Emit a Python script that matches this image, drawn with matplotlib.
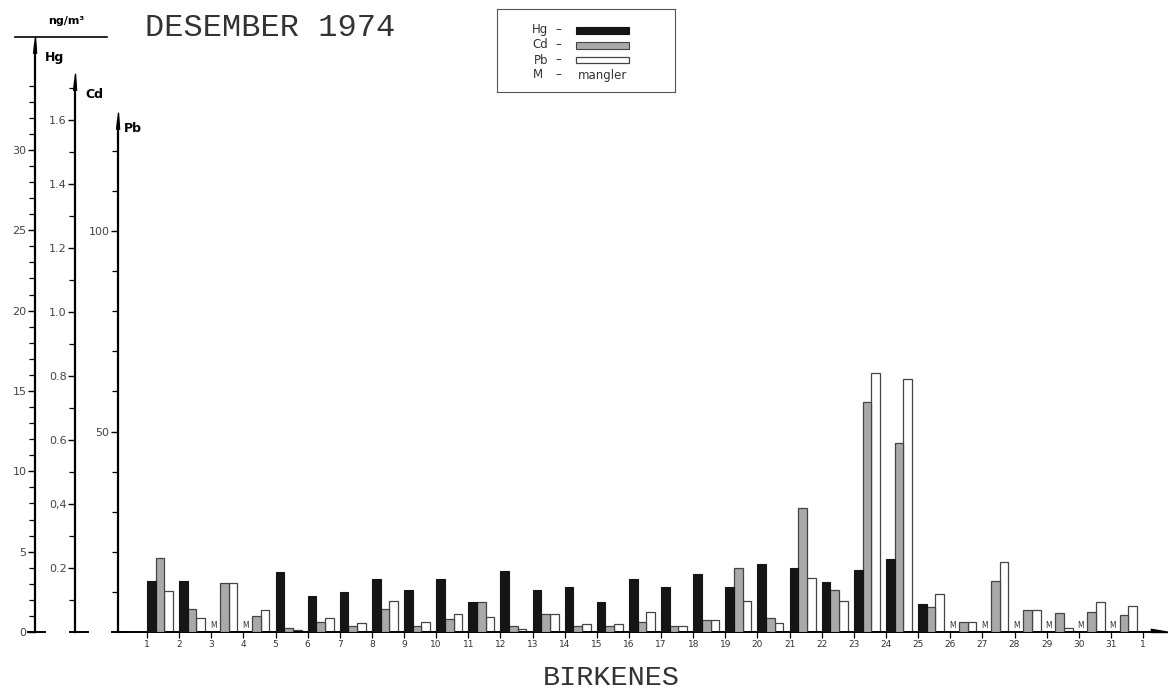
import numpy as np
import matplotlib.pyplot as plt
from matplotlib.patches import Rectangle
from matplotlib.lines import Line2D

# Birkenes, desember 1974 (ng/m3); nan = mangler
days = np.arange(1, 32)
tick_labels = [str(d) for d in days] + ['1']
hg = [3.19, 3.19, np.nan, np.nan, 3.75, 2.24, 2.51, 3.30, 2.61, 3.30, 1.89, 3.80, 2.61, 2.82, 1.89, 3.30,
      2.78, 3.59, 2.82, 4.23, 3.96, 3.13, 3.86, 4.54, 1.72, np.nan, np.nan, np.nan, np.nan, np.nan, np.nan]
cd = [0.23, 0.071, 0.152, 0.05, 0.012, 0.032, 0.019, 0.071, 0.02, 0.04, 0.095, 0.02, 0.056, 0.019, 0.019, 0.032,
      0.019, 0.0375, 0.199, 0.043, 0.387, 0.131, 0.72, 0.59, 0.077, 0.032, 0.16, 0.069, 0.06, 0.063, 0.053]
pb = [10.3, 3.6, 12.1, 5.5, 0.6, 3.4, 2.3, 7.7, 2.5, 4.4, 3.7, 0.7, 4.5, 2.0, 2.0, 4.9,
      1.5, 3.0, 7.7, 2.2, 13.5, 7.8, 64.7, 63.0, 9.6, 2.4, 17.5, 5.5, 0.9, 7.6, 6.5]

W, H = 1168, 695


def fx(px):
    return px / W


def fy(py):
    return 1 - py / H


fig = plt.figure(figsize=(W / 100, H / 100), dpi=100)
pos = [fx(118), fy(632), (1160 - 118) / W, (632 - 40) / H]

ax_pb = fig.add_axes(pos)
ax_cd = fig.add_axes(pos, sharex=ax_pb)
ax_hg = fig.add_axes(pos, sharex=ax_pb)

plot_h = 632 - 40
ax_hg.set_ylim(0, plot_h / 16.07)
ax_cd.set_ylim(0, plot_h / 320)
ax_pb.set_ylim(0, plot_h / 4.01)
ax_pb.set_xlim(1 - 29 / 32.13, 1 + (1160 - 147) / 32.13)

edge = '#444444'
w = 0.27
ax_hg.bar(days, np.nan_to_num(hg), w, align='edge', color='#151515', edgecolor='#151515', lw=0.8)
ax_cd.bar(days + w, cd, w, align='edge', color='#a9a9a9', edgecolor=edge, lw=0.9)
ax_pb.bar(days + 2 * w, pb, w, align='edge', color='white', edgecolor=edge, lw=0.9)

for d, v in zip(days, hg):
    if np.isnan(v):
        ax_hg.text(d + 0.06, 0.1, 'M', ha='center', va='bottom', fontsize=5.5, color='#333333')

axis_specs = [
    (ax_hg, (35 - 118) / 1042, 36.5, (28, 45), 'Hg', (45, 57)),
    (ax_cd, (75 - 118) / 1042, 1.72, (70, 88), 'Cd', (85, 95)),
    (ax_pb, 0.0, 127.5, (112, 128), 'Pb', (124, 128)),
]
for ax, frac, top, foot, name, lab in axis_specs:
    for s in ['top', 'right', 'bottom']:
        if not (ax is ax_pb and s == 'bottom'):
            ax.spines[s].set_visible(False)
    ax.spines['left'].set_position(('axes', frac))
    ax.spines['left'].set_bounds(0, top)
    ax.spines['left'].set_linewidth(1.6)
    ax.plot([frac], [top], marker=[(-0.35, -1.5), (0, 1.5), (0.2, -1.5)], ms=12, color='black',
            transform=ax.get_yaxis_transform(), clip_on=False)
    ax.plot([(foot[0] - 118) / 1042, (foot[1] - 118) / 1042], [0, 0], color='black', lw=1.4,
            transform=ax.get_yaxis_transform(), clip_on=False)
    ax.tick_params(axis='y', which='major', length=5, width=1, labelsize=8, labelcolor='#444444', pad=1)
    ax.tick_params(axis='y', which='minor', length=4, width=0.9)
    fig.text(fx(lab[0]), fy(lab[1]), name, fontsize=9, fontweight='bold', va='center', ha='left')
    if ax is not ax_pb:
        ax.patch.set_visible(False)
        ax.tick_params(axis='x', which='both', bottom=False, labelbottom=False)

ax_hg.set_yticks([0, 5, 10, 15, 20, 25, 30])
ax_hg.set_yticks(np.arange(1, 35), minor=True)
ax_cd.set_yticks([0.2, 0.4, 0.6, 0.8, 1.0, 1.2, 1.4, 1.6])
ax_cd.set_yticklabels(['0.2', '0,4', '0.6', '0.8', '1.0', '1.2', '1.4', '1.6'])
ax_cd.set_yticks(np.arange(0.1, 1.75, 0.1), minor=True)
ax_pb.set_yticks([50, 100])
ax_pb.set_yticks(np.arange(10, 125, 10), minor=True)

ax_pb.spines['bottom'].set_linewidth(1.4)
ax_pb.set_xticks(np.arange(1, 33))
ax_pb.set_xticklabels(tick_labels)
ax_pb.tick_params(axis='x', length=4, width=0.9, labelsize=6.5, pad=2, labelcolor='#333333')
ax_pb.plot([1.0], [0.0], marker=[(-1.5, 0.0), (1.5, 0.0), (-1.5, 0.5)], ms=14, color='black',
           transform=ax_pb.transAxes, clip_on=False)

# headings
fig.text(fx(66), fy(21), 'ng/m³', fontsize=8, fontweight='bold', ha='center', va='center')
fig.add_artist(Line2D([fx(15), fx(107)], [fy(37), fy(37)], color='black', lw=1.2))
fig.text(fx(145), fy(36), 'DESEMBER 1974', family='Liberation Mono', fontsize=23, color='#333333',
         ha='left', va='baseline')
fig.text(fx(611), fy(678), 'BIRKENES', family='Liberation Mono', fontsize=20.5, color='#333333',
         ha='center', va='center')

# legend box
lax = fig.add_axes([fx(497), fy(92), 178 / W, 83 / H])
lax.set_xlim(497, 675)
lax.set_ylim(92, 9)
lax.set_xticks([])
lax.set_yticks([])
for s in lax.spines.values():
    s.set_linewidth(0.8)
    s.set_color('#555555')
rows = [('Hg', 30), ('Cd', 45), ('Pb', 60), ('M', 75)]
for name, y in rows:
    lax.text(548 if name != 'M' else 543, y, name, ha='right', va='center', fontsize=8.5, color='#333333')
    lax.text(558, y, '–', ha='center', va='center', fontsize=8.5, color='#333333')
lax.add_patch(Rectangle((576, 26.5), 53, 7, facecolor='#151515', edgecolor='#151515', lw=0.8))
lax.add_patch(Rectangle((576, 41.5), 53, 7, facecolor='#a9a9a9', edgecolor=edge, lw=0.8))
lax.add_patch(Rectangle((576, 57), 53, 6, facecolor='white', edgecolor=edge, lw=0.9))
lax.text(578, 75, 'mangler', ha='left', va='center', fontsize=8.5, color='#333333')

fig.savefig('out.png', dpi=100)
